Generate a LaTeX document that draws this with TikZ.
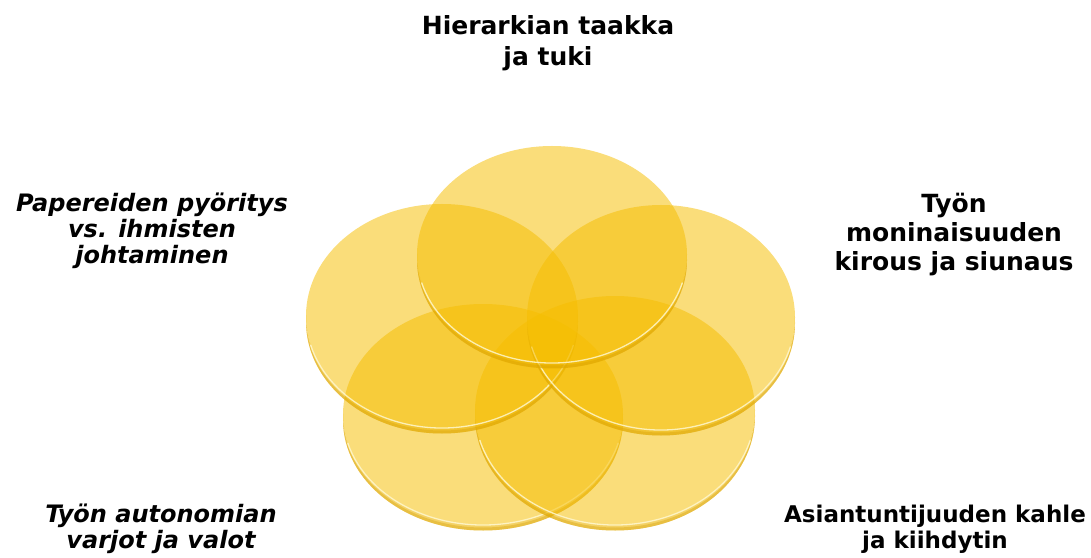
\documentclass[tikz,border=0pt]{standalone}
\usepackage{fontspec}
\setmainfont{DejaVu Sans}[BoldFont={DejaVu Sans Bold},ItalicFont={DejaVu Sans Oblique},BoldItalicFont={DejaVu Sans Bold Oblique}]
\definecolor{discface}{RGB}{245,189,0}
\definecolor{discrim}{RGB}{236,180,0}
\definecolor{discrimdark}{RGB}{212,156,0}
\definecolor{rimlight}{RGB}{255,250,215}

% One translucent disc: #1,#2 centre of the face, #3,#4 radii
\newcommand\drawdisc[4]{%
  \begin{scope}
    \clip (#1,#2-5.5) ellipse [x radius=#3, y radius=#4];
    \fill[discrim, fill opacity=0.6, even odd rule]
      (#1,#2) ellipse [x radius=#3, y radius=#4] (0,0) rectangle (1091,557);
  \end{scope}
  \begin{scope}
    \clip (#1,#2-5.5) ellipse [x radius=#3, y radius=#4];
    \fill[discrimdark, fill opacity=0.35, even odd rule]
      (#1,#2-2.5) ellipse [x radius=#3, y radius=#4] (0,0) rectangle (1091,557);
  \end{scope}
  \fill[discface, fill opacity=0.52] (#1,#2) ellipse [x radius=#3, y radius=#4];
  \draw[rimlight, line width=1.3pt, opacity=0.8]
    (#1,#2) ++(195:#3 and #4) arc[start angle=195, end angle=345, x radius=#3, y radius=#4];
}

\begin{document}
\begin{tikzpicture}[x=1pt,y=1pt,
  lbl/.style={font=\bfseries\fontsize{24}{26}\selectfont, align=center, text=black, inner sep=0pt},
  lblit/.style={lbl, font=\bfseries\itshape\fontsize{24}{26}\selectfont},
]
\useasboundingbox (0,0) rectangle (1091,557);

% the five overlapping discs
\drawdisc{483}{142.5}{140}{110.5}
\drawdisc{615}{146.5}{140}{114.5}
\drawdisc{442}{241}{136}{112}
\drawdisc{661}{239.5}{134}{112.5}
\drawdisc{552}{302.5}{135}{108.5}

% captions
\node[lbl, font=\bfseries\fontsize{25}{31}\selectfont] (hier) at (548,514) {Hierarkian taakka\\ja tuki};
\node[lblit] (pap) at (152,326) {Papereiden pyöritys\\vs. ihmisten\\johtaminen};
\node[lbl, font=\bfseries\fontsize{25}{29}\selectfont] (mon) at (954,322) {Työn\\moninaisuuden\\kirous ja siunaus};
\node[lblit] (auto) at (161,28) {Työn autonomian\\varjot ja valot};
\node[lbl, font=\bfseries\fontsize{23}{26}\selectfont] (asi) at (935,28) {Asiantuntijuuden kahle\\ja kiihdytin};
\end{tikzpicture}
\end{document}
